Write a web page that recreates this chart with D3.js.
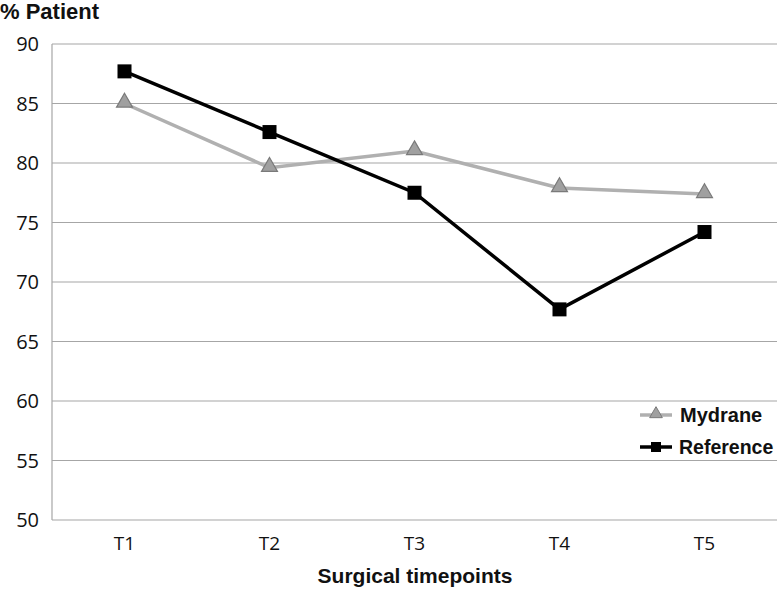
<!DOCTYPE html>
<html><head><meta charset="utf-8">
<script src="https://cdn.jsdelivr.net/npm/d3@7"></script>
<style>body{margin:0;background:#fff;}</style>
</head><body>
<svg id="c" width="780" height="590"></svg>
<script>
const categories = ["T1","T2","T3","T4","T5"];
const mydrane = [85.0, 79.6, 81.0, 77.9, 77.4];
const reference = [87.7, 82.6, 77.5, 67.7, 74.2];
const yTicks = [50,55,60,65,70,75,80,85,90];

const svg = d3.select("#c");
const m = {l:52, r:3, t:44, b:70};
const W = 780, H = 590;
const x = d3.scaleBand().domain(categories).range([m.l, W-m.r]);
const y = d3.scaleLinear().domain([50,90]).range([H-m.b, m.t]);
const cx = d => x(d) + x.bandwidth()/2;

svg.append("g").selectAll("line").data(yTicks).join("line")
  .attr("x1", m.l).attr("x2", W-m.r)
  .attr("y1", d=>y(d)).attr("y2", d=>y(d))
  .attr("stroke", "#a6a6a6").attr("stroke-width", 1.2);
svg.append("line").attr("x1", m.l).attr("x2", m.l).attr("y1", y(90)).attr("y2", y(50))
  .attr("stroke", "#a6a6a6").attr("stroke-width", 1.2);

svg.append("g").selectAll("text").data(yTicks).join("text")
  .attr("x", 39).attr("y", d=>y(d)+7)
  .attr("text-anchor","end").attr("font-family","'Open Sans', 'Liberation Sans', sans-serif")
  .attr("font-size", 20).attr("fill","#111").text(d=>d);
svg.append("g").selectAll("text").data(categories).join("text")
  .attr("x", d=>cx(d)).attr("y", 550)
  .attr("text-anchor","middle").attr("font-family","'Open Sans', 'Liberation Sans', sans-serif")
  .attr("font-size", 19).attr("fill","#111").text(d=>d);

svg.append("text").attr("x", 0).attr("y", 19).attr("font-family","'Liberation Sans', Arial, sans-serif")
  .attr("font-weight","bold").attr("font-size", 22).attr("fill","#111").text("% Patient");
svg.append("text").attr("x", 415).attr("y", 583).attr("text-anchor","middle")
  .attr("font-family","'Liberation Sans', Arial, sans-serif")
  .attr("font-weight","bold").attr("font-size", 21).attr("fill","#111").text("Surgical timepoints");

const line = d3.line().x((d,i)=>cx(categories[i])).y(d=>y(d));

svg.append("path").datum(mydrane).attr("d", line).attr("fill","none")
  .attr("stroke","#b0b0b0").attr("stroke-width", 3.5);
const tri = d3.symbol().type(d3.symbolTriangle).size(110);
svg.append("g").selectAll("path").data(mydrane).join("path")
  .attr("d", tri).attr("transform",(d,i)=>`translate(${cx(categories[i])},${y(d)-1})`)
  .attr("fill","#a0a0a0").attr("stroke","#7a7a7a").attr("stroke-width",1.2);

svg.append("path").datum(reference).attr("d", line).attr("fill","none")
  .attr("stroke","#000").attr("stroke-width", 3.5);
svg.append("g").selectAll("rect").data(reference).join("rect")
  .attr("x",(d,i)=>cx(categories[i])-7).attr("y", d=>y(d)-7)
  .attr("width",14).attr("height",14).attr("fill","#000");

const lg = svg.append("g");
lg.append("line").attr("x1",640).attr("x2",672).attr("y1",415).attr("y2",415)
  .attr("stroke","#b0b0b0").attr("stroke-width",3.5);
lg.append("path").attr("d", d3.symbol().type(d3.symbolTriangle).size(70))
  .attr("transform","translate(656,414)").attr("fill","#a0a0a0").attr("stroke","#7a7a7a");
lg.append("text").attr("x",680).attr("y",422).attr("font-family","'Liberation Sans', Arial, sans-serif")
  .attr("font-weight","bold").attr("font-size",20).attr("fill","#111").text("Mydrane");
lg.append("line").attr("x1",640).attr("x2",672).attr("y1",447).attr("y2",447)
  .attr("stroke","#000").attr("stroke-width",3.5);
lg.append("rect").attr("x",651).attr("y",442).attr("width",10).attr("height",10).attr("fill","#000");
lg.append("text").attr("x",679).attr("y",454).attr("font-family","'Liberation Sans', Arial, sans-serif")
  .attr("font-weight","bold").attr("font-size",19.5).attr("fill","#111").text("Reference");
</script>
</body></html>
